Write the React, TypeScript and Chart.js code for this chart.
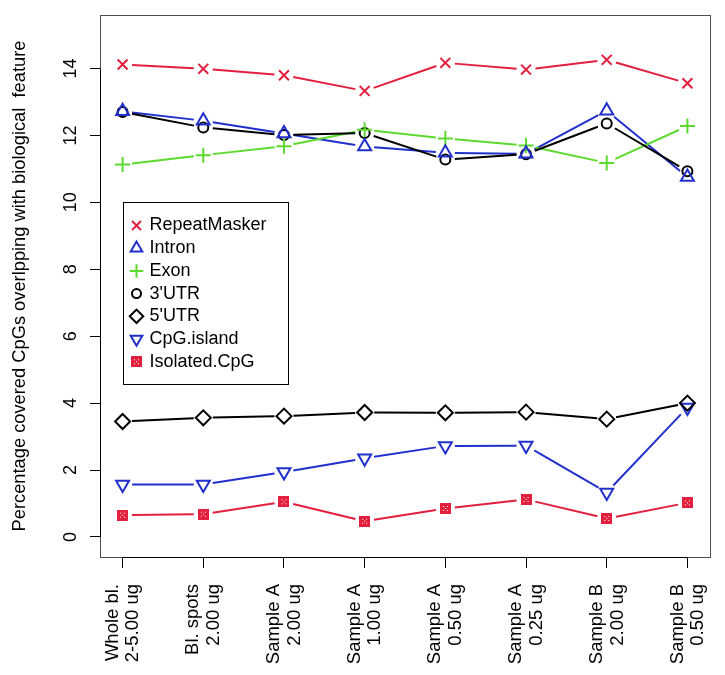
import React, { useEffect, useRef } from 'react';
import { Chart, registerables } from 'chart.js';
import { drawPoint } from 'chart.js/helpers';

Chart.register(...registerables);

const FONT = '"Liberation Sans", Arial, Helvetica, sans-serif';

const categories: string[][] = [
  ['Whole bl.', '2-5.00 ug'],
  ['Bl. spots', '2.00 ug'],
  ['Sample A', '2.00 ug'],
  ['Sample A', '1.00 ug'],
  ['Sample A', '0.50 ug'],
  ['Sample A', '0.25 ug'],
  ['Sample B', '2.00 ug'],
  ['Sample B', '0.50 ug'],
];

const repeatMasker = [14.12, 13.99, 13.8, 13.33, 14.17, 13.97, 14.26, 13.56];
const intron = [12.72, 12.44, 12.06, 11.67, 11.48, 11.45, 12.74, 10.76];
const exon = [11.13, 11.41, 11.68, 12.17, 11.91, 11.7, 11.18, 12.28];
const utr3 = [12.7, 12.24, 12.01, 12.07, 11.28, 11.44, 12.36, 10.93];
const utr5 = [3.45, 3.56, 3.61, 3.72, 3.71, 3.73, 3.52, 4.0];
const cpgIsland = [1.57, 1.57, 1.94, 2.35, 2.72, 2.73, 1.33, 3.87];
const isolatedCpG = [0.65, 0.68, 1.05, 0.47, 0.85, 1.12, 0.55, 1.02];

const seriesNames = ['RepeatMasker', 'Intron', 'Exon', "3'UTR", "5'UTR", 'CpG.island', 'Isolated.CpG'];
const yTicks = [0, 2, 4, 6, 8, 10, 12, 14];
const yTitle = 'Percentage covered CpGs overlpping with biological  feature';

const RED = '#E2203E';
const BLUE = '#2130CC';
const GREEN = '#5CD92E';
const BLACK = '#000000';
const GAP = 9.5;

function makeSquareMarker(): HTMLCanvasElement {
  const c = document.createElement('canvas');
  c.width = 11;
  c.height = 11;
  const g = c.getContext('2d')!;
  g.fillStyle = RED;
  g.fillRect(0, 0, 11, 11);
  g.fillStyle = '#ffffff';
  const dots = [[3, 3], [7, 3], [5, 5], [3, 7], [7, 7]];
  dots.forEach(([dx, dy]) => g.fillRect(dx, dy, 1, 1));
  return c;
}

const zeroPad = (s: any) => {
  s.paddingLeft = 0;
  s.paddingRight = 0;
  s.paddingTop = 0;
  s.paddingBottom = 0;
};

const gapLines = {
  id: 'gapLines',
  beforeDatasetsDraw(chart: any) {
    const ctx = chart.ctx;
    chart.data.datasets.forEach((ds: any, i: number) => {
      const pts = chart.getDatasetMeta(i).data;
      ctx.save();
      ctx.strokeStyle = ds.lineColor;
      ctx.lineWidth = 2;
      for (let j = 0; j < pts.length - 1; j++) {
        const a = pts[j];
        const b = pts[j + 1];
        const dx = b.x - a.x;
        const dy = b.y - a.y;
        const L = Math.hypot(dx, dy);
        if (L <= 2 * GAP) continue;
        const ux = dx / L;
        const uy = dy / L;
        ctx.beginPath();
        ctx.moveTo(a.x + ux * GAP, a.y + uy * GAP);
        ctx.lineTo(b.x - ux * GAP, b.y - uy * GAP);
        ctx.stroke();
      }
      ctx.restore();
    });
  },
};

const frame = {
  id: 'frame',
  beforeDatasetsDraw(chart: any) {
    const { ctx, chartArea: ca, scales } = chart;
    ctx.save();
    ctx.lineWidth = 1;
    ctx.strokeStyle = '#4a4f4f';
    ctx.strokeRect(Math.round(ca.left) + 0.5, Math.round(ca.top) + 0.5, Math.round(ca.right - ca.left), Math.round(ca.bottom - ca.top));
    ctx.strokeStyle = '#000';
    const y0 = scales.y.getPixelForValue(yTicks[0]);
    const y1 = scales.y.getPixelForValue(yTicks[yTicks.length - 1]);
    const xl = Math.round(ca.left) + 0.5;
    ctx.beginPath();
    ctx.moveTo(xl, y0);
    ctx.lineTo(xl, y1);
    ctx.stroke();
    const x0 = scales.x.getPixelForValue(1);
    const x1 = scales.x.getPixelForValue(categories.length);
    const yb = Math.round(ca.bottom) + 0.5;
    ctx.beginPath();
    ctx.moveTo(x0, yb);
    ctx.lineTo(x1, yb);
    ctx.stroke();
    ctx.restore();
  },
};

const boxLegend = {
  id: 'boxLegend',
  afterDraw(chart: any) {
    const { ctx, scales } = chart;
    const left = Math.round(scales.x.getPixelForValue(1)) + 0.5;
    const top = Math.round(scales.y.getPixelForValue(10)) + 0.5;
    const w = 165;
    const h = 182;
    ctx.save();
    ctx.fillStyle = '#fff';
    ctx.fillRect(left, top, w, h);
    ctx.strokeStyle = '#000';
    ctx.lineWidth = 1;
    ctx.strokeRect(left, top, w, h);
    ctx.font = `18px ${FONT}`;
    ctx.textBaseline = 'middle';
    ctx.textAlign = 'left';
    chart.data.datasets.forEach((ds: any, i: number) => {
      const cy = top + 23 + i * 22.7;
      ctx.save();
      ctx.strokeStyle = ds.pointBorderColor;
      ctx.fillStyle = 'rgba(0,0,0,0)';
      ctx.lineWidth = 2;
      drawPoint(ctx, { pointStyle: ds.pointStyle, radius: ds.pointRadius * 0.9, rotation: ds.pointRotation || 0, borderWidth: 2 } as any, left + 13, cy);
      ctx.restore();
      ctx.fillStyle = '#000';
      ctx.fillText(ds.label, left + 26, cy);
    });
    ctx.restore();
  },
};

export default function App() {
  const ref = useRef<HTMLCanvasElement | null>(null);

  useEffect(() => {
    if (!ref.current) return;
    const square = makeSquareMarker();
    const mk = (vals: number[]) => vals.map((v, i) => ({ x: i + 1, y: v }));
    const defs = [
      { data: repeatMasker, color: RED, style: 'crossRot', r: 7, rot: 0 },
      { data: intron, color: BLUE, style: 'triangle', r: 7.5, rot: 0 },
      { data: exon, color: GREEN, style: 'cross', r: 7.5, rot: 0 },
      { data: utr3, color: BLACK, style: 'circle', r: 5, rot: 0 },
      { data: utr5, color: BLACK, style: 'rectRot', r: 7.5, rot: 0 },
      { data: cpgIsland, color: BLUE, style: 'triangle', r: 7.5, rot: 180 },
      { data: isolatedCpG, color: RED, style: square as any, r: 6, rot: 0 },
    ];
    const datasets = defs.map((d, i) => ({
      label: seriesNames[i],
      data: mk(d.data),
      showLine: false,
      lineColor: d.color,
      borderColor: d.color,
      pointBorderColor: d.color,
      pointBackgroundColor: 'rgba(0,0,0,0)',
      pointStyle: d.style,
      pointRadius: d.r,
      pointRotation: d.rot,
      pointBorderWidth: 2,
    }));

    const chart = new Chart(ref.current, {
      type: 'line',
      data: { datasets } as any,
      options: {
        responsive: false,
        animation: false,
        layout: { padding: { top: 15, right: 15, left: 0, bottom: 0 } },
        plugins: { legend: { display: false }, tooltip: { enabled: false } },
        scales: {
          x: {
            type: 'linear',
            min: 0.72,
            max: 8.28,
            afterBuildTicks: (s: any) => {
              s.ticks = categories.map((_, i) => ({ value: i + 1 }));
            },
            afterFit: (s: any) => {
              s.height = 118;
              zeroPad(s);
            },
            ticks: {
              autoSkip: false,
              minRotation: 90,
              maxRotation: 90,
              padding: 16,
              labelOffset: -10,
              color: '#000',
              font: { family: FONT, size: 18.5, lineHeight: 1.12 },
              callback: (_v: any, i: number) => categories[i],
            },
            grid: { display: true, drawOnChartArea: false, drawTicks: true, tickLength: 11, color: '#000', lineWidth: 1 },
            border: { display: false },
          },
          y: {
            type: 'linear',
            min: -0.6,
            max: 15.6,
            afterBuildTicks: (s: any) => {
              s.ticks = yTicks.map((v) => ({ value: v }));
            },
            afterFit: (s: any) => {
              s.width = 100;
              zeroPad(s);
            },
            ticks: {
              minRotation: 90,
              maxRotation: 90,
              crossAlign: 'center',
              padding: 9,
              color: '#000',
              font: { family: FONT, size: 18 },
              callback: (v: any) => String(v),
            },
            grid: { display: true, drawOnChartArea: false, drawTicks: true, tickLength: 10, color: '#000', lineWidth: 1 },
            border: { display: false },
            title: {
              display: true,
              text: yTitle,
              color: '#000',
              font: { family: FONT, size: 18.3 },
              padding: { top: 9, bottom: 0 },
            },
          },
        },
      } as any,
      plugins: [frame, gapLines, boxLegend],
    });
    return () => chart.destroy();
  }, []);

  return (
    <div style={{ position: 'absolute', left: 0, top: 0, width: 725, height: 675, background: '#fff' }}>
      <canvas ref={ref} width={725} height={675} />
    </div>
  );
}
